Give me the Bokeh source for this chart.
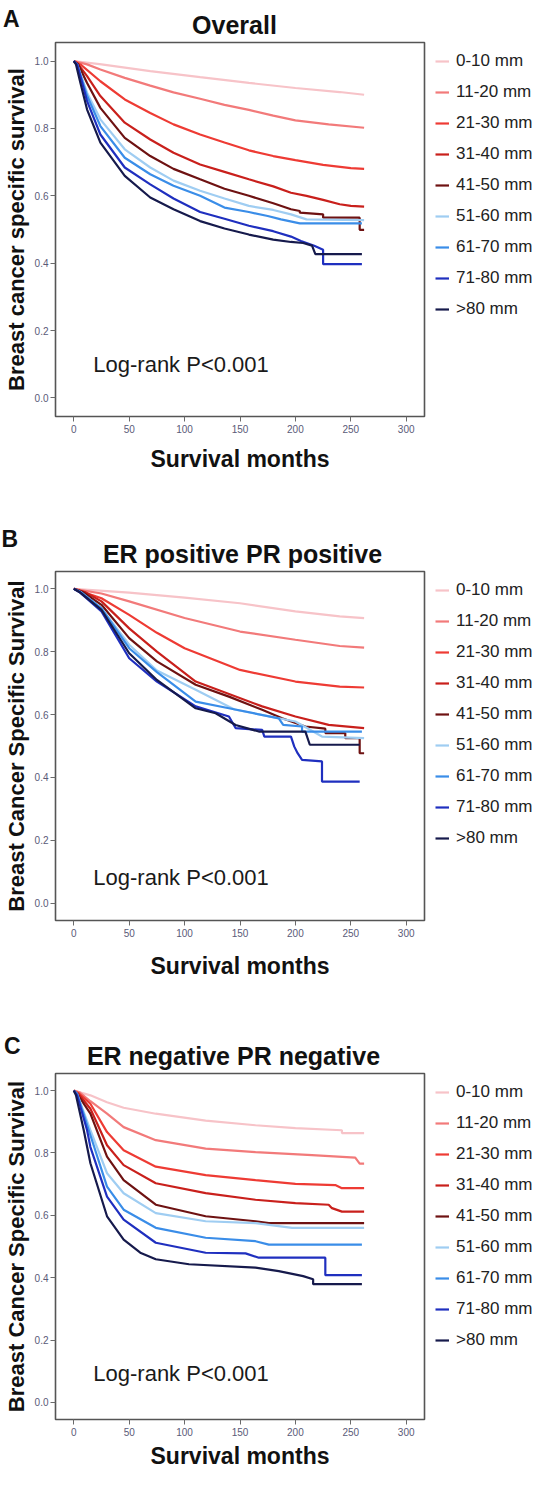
from bokeh.plotting import figure
from bokeh.models import Legend, LegendItem, Label, FixedTicker, NumeralTickFormatter, Range1d
from bokeh.layouts import column, row
from bokeh.embed import file_html
from bokeh.resources import INLINE

FONT = "Liberation Sans"

size_groups = ["0-10 mm", "11-20 mm", "21-30 mm", "31-40 mm", "41-50 mm",
               "51-60 mm", "61-70 mm", "71-80 mm", ">80 mm"]
group_colors = ["#f7c3c8", "#f27a7a", "#ee3b34", "#c9201c", "#6e1212",
                "#9fcdf2", "#3a8de8", "#1f2fbf", "#161a4c"]
x_ticks = [0, 50, 100, 150, 200, 250, 300]
y_ticks = [0.0, 0.2, 0.4, 0.6, 0.8, 1.0]

# Panel A: Overall
overall_months = [
    [0, 25, 69, 114, 158, 200, 240, 262],
    [0, 12, 24, 46, 69, 90, 114, 136, 158, 180, 200, 230, 262],
    [0, 6, 24, 46, 69, 90, 114, 136, 158, 180, 200, 225, 250, 262],
    [0, 4, 12, 24, 46, 69, 90, 114, 136, 158, 180, 196, 210, 225, 240, 250, 262],
    [0, 4, 12, 24, 46, 69, 90, 114, 136, 158, 180, 196, 204, 204, 225, 225, 258, 258, 262],
    [0, 3, 12, 24, 46, 69, 90, 114, 136, 158, 180, 196, 210, 262],
    [0, 3, 12, 24, 46, 69, 90, 114, 136, 158, 175, 187, 204, 260],
    [0, 3, 12, 24, 46, 69, 90, 114, 136, 158, 180, 196, 205, 217, 225, 225, 260],
    [0, 2, 6, 12, 24, 46, 69, 90, 114, 136, 158, 180, 196, 207, 215, 218, 260],
]
overall_survival = [
    [1.0, 0.99, 0.970, 0.952, 0.935, 0.920, 0.908, 0.900],
    [1.0, 0.99, 0.975, 0.950, 0.927, 0.907, 0.888, 0.870, 0.855, 0.838, 0.824, 0.812, 0.802],
    [1.0, 0.99, 0.940, 0.886, 0.846, 0.812, 0.782, 0.758, 0.735, 0.718, 0.706, 0.692, 0.682, 0.680],
    [1.0, 0.99, 0.955, 0.896, 0.817, 0.767, 0.728, 0.693, 0.671, 0.649, 0.628, 0.609, 0.600, 0.588, 0.575, 0.570, 0.568],
    [1.0, 0.99, 0.935, 0.861, 0.772, 0.718, 0.680, 0.649, 0.621, 0.600, 0.578, 0.560, 0.555, 0.550, 0.545, 0.535, 0.535, 0.499, 0.499],
    [1.0, 0.99, 0.906, 0.827, 0.738, 0.684, 0.645, 0.615, 0.592, 0.570, 0.558, 0.545, 0.530, 0.528],
    [1.0, 0.99, 0.897, 0.807, 0.713, 0.664, 0.630, 0.600, 0.565, 0.552, 0.540, 0.530, 0.518, 0.518],
    [1.0, 0.99, 0.881, 0.782, 0.684, 0.634, 0.592, 0.552, 0.532, 0.511, 0.495, 0.479, 0.466, 0.452, 0.440, 0.397, 0.397],
    [1.0, 0.99, 0.935, 0.856, 0.758, 0.659, 0.595, 0.560, 0.525, 0.503, 0.485, 0.470, 0.463, 0.460, 0.452, 0.427, 0.427],
]

# Panel B: ER positive PR positive
erpos_months = [
    [0, 50, 100, 150, 200, 240, 262],
    [0, 25, 50, 100, 150, 200, 240, 262],
    [0, 25, 50, 75, 100, 150, 200, 240, 262],
    [0, 10, 25, 50, 75, 110, 170, 200, 230, 262],
    [0, 8, 25, 50, 75, 110, 140, 170, 188, 209, 227, 227, 245, 245, 258, 258, 262],
    [0, 6, 25, 50, 75, 110, 145, 200, 224, 262],
    [0, 6, 25, 50, 75, 110, 140, 185, 189, 206, 206, 260],
    [0, 5, 25, 50, 75, 110, 140, 146, 170, 172, 196, 199, 202, 206, 224, 224, 258],
    [0, 5, 25, 50, 75, 110, 128, 146, 167, 209, 213, 258],
]
erpos_survival = [
    [1.0, 0.988, 0.972, 0.954, 0.928, 0.912, 0.907],
    [1.0, 0.985, 0.960, 0.907, 0.864, 0.838, 0.818, 0.813],
    [1.0, 0.970, 0.917, 0.860, 0.811, 0.742, 0.705, 0.689, 0.686],
    [1.0, 0.99, 0.960, 0.874, 0.800, 0.705, 0.626, 0.594, 0.567, 0.557],
    [1.0, 0.99, 0.949, 0.843, 0.769, 0.695, 0.657, 0.615, 0.588, 0.562, 0.555, 0.541, 0.541, 0.525, 0.525, 0.477, 0.477],
    [1.0, 0.99, 0.938, 0.822, 0.740, 0.679, 0.616, 0.578, 0.530, 0.525],
    [1.0, 0.99, 0.938, 0.811, 0.735, 0.641, 0.620, 0.588, 0.567, 0.562, 0.546, 0.546],
    [1.0, 0.99, 0.928, 0.779, 0.705, 0.626, 0.594, 0.557, 0.551, 0.530, 0.530, 0.498, 0.477, 0.456, 0.451, 0.387, 0.387],
    [1.0, 0.99, 0.933, 0.795, 0.710, 0.620, 0.604, 0.567, 0.546, 0.546, 0.504, 0.504],
]

# Panel C: ER negative PR negative
erneg_months = [
    [0, 15, 30, 45, 74, 119, 164, 200, 242, 242, 262],
    [0, 5, 15, 30, 45, 74, 119, 164, 215, 254, 258, 262],
    [0, 5, 15, 30, 45, 74, 119, 164, 200, 236, 242, 262],
    [0, 4, 15, 30, 45, 74, 119, 164, 200, 230, 233, 242, 262],
    [0, 3, 15, 30, 45, 74, 119, 164, 176, 262],
    [0, 3, 15, 30, 45, 74, 119, 164, 197, 262],
    [0, 3, 15, 30, 45, 74, 119, 164, 176, 260],
    [0, 3, 12, 15, 30, 45, 74, 119, 155, 167, 227, 227, 260],
    [0, 2, 9, 15, 30, 45, 60, 74, 104, 164, 185, 207, 216, 216, 260],
]
erneg_survival = [
    [1.0, 0.985, 0.963, 0.945, 0.926, 0.904, 0.889, 0.880, 0.873, 0.864, 0.864],
    [1.0, 0.995, 0.966, 0.926, 0.883, 0.841, 0.814, 0.803, 0.793, 0.785, 0.766, 0.766],
    [1.0, 0.99, 0.958, 0.867, 0.809, 0.756, 0.729, 0.713, 0.701, 0.697, 0.687, 0.687],
    [1.0, 0.99, 0.942, 0.825, 0.761, 0.703, 0.671, 0.650, 0.639, 0.634, 0.623, 0.612, 0.612],
    [1.0, 0.99, 0.926, 0.788, 0.713, 0.634, 0.597, 0.581, 0.575, 0.575],
    [1.0, 0.99, 0.873, 0.735, 0.671, 0.607, 0.581, 0.575, 0.560, 0.560],
    [1.0, 0.99, 0.857, 0.692, 0.618, 0.560, 0.528, 0.517, 0.506, 0.506],
    [1.0, 0.985, 0.873, 0.819, 0.660, 0.586, 0.512, 0.480, 0.478, 0.464, 0.464, 0.408, 0.408],
    [1.0, 0.985, 0.873, 0.767, 0.597, 0.522, 0.480, 0.459, 0.443, 0.432, 0.421, 0.405, 0.395, 0.379, 0.379],
]

panel_letters = ["A", "B", "C"]
panel_titles = ["Overall", "ER positive PR positive", "ER negative PR negative"]
y_labels = ["Breast cancer specific survival",
            "Breast Cancer Specific Survival",
            "Breast Cancer Specific Survival"]
x_label = "Survival months"
logrank_text = "Log-rank P<0.001"

TOTAL_W = 534
PLOT_W = 426
LEG_W = TOTAL_W - PLOT_W


def blank_figure(width, height, x_range, y_range):
    f = figure(width=width, height=height, x_range=x_range, y_range=y_range,
               output_backend="svg", toolbar_location=None, min_border=0,
               x_axis_location=None, y_axis_location=None,
               background_fill_color="white", border_fill_color="white")
    f.outline_line_color = None
    f.grid.visible = False
    return f


def make_header(letter, title, height, letter_x, letter_base, title_x, title_base):
    h = blank_figure(TOTAL_W, height, Range1d(0, TOTAL_W), Range1d(height, 0))
    h.add_layout(Label(x=letter_x, y=letter_base, text=letter, text_font=FONT,
                       text_font_size="23px", text_font_style="bold",
                       text_color="#111111", text_baseline="alphabetic"))
    h.add_layout(Label(x=title_x, y=title_base, text=title, text_font=FONT,
                       text_font_size="25px", text_font_style="bold",
                       text_color="#111111", text_align="center",
                       text_baseline="alphabetic"))
    return h


def make_plot(ylabel, months, survival, height, left, bottom, xlab_standoff, logrank_y):
    p = figure(width=PLOT_W, height=height,
               x_range=Range1d(-16.5, 316.5), y_range=Range1d(-0.055, 1.055),
               output_backend="svg", toolbar_location=None,
               min_border_left=left, min_border_right=2,
               min_border_top=1, min_border_bottom=bottom,
               background_fill_color="white", border_fill_color="white")
    p.grid.visible = False
    p.outline_line_color = "#555555"
    p.outline_line_width = 1.6

    p.xaxis.ticker = FixedTicker(ticks=x_ticks)
    p.yaxis.ticker = FixedTicker(ticks=y_ticks)
    p.yaxis.formatter = NumeralTickFormatter(format="0.0")
    p.axis.axis_line_color = None
    p.axis.major_tick_line_color = "#6a6a6a"
    p.axis.major_tick_in = 0
    p.axis.major_tick_out = 5
    p.axis.minor_tick_line_color = None
    p.axis.major_label_text_font = FONT
    p.axis.major_label_text_font_size = "10px"
    p.axis.major_label_text_color = "#5a5a78"
    p.xaxis.major_label_standoff = 3
    p.yaxis.major_label_standoff = 2

    p.xaxis.axis_label = x_label
    p.yaxis.axis_label = ylabel
    p.axis.axis_label_text_font = FONT
    p.axis.axis_label_text_font_style = "bold"
    p.axis.axis_label_text_color = "#111111"
    p.xaxis.axis_label_text_font_size = "23px"
    p.yaxis.axis_label_text_font_size = "22px"
    p.xaxis.axis_label_standoff = xlab_standoff
    p.yaxis.axis_label_standoff = 3

    for col, t, s in zip(group_colors, months, survival):
        p.line(t, s, line_color=col, line_width=2.2)

    p.add_layout(Label(x=17.6, y=logrank_y, text=logrank_text,
                       text_font=FONT, text_font_size="22px",
                       text_baseline="middle", text_color="#1a1a1a"))
    return p


def make_legend(height):
    # legend-only figure: its swatch lines lie outside the visible range
    lf = blank_figure(LEG_W, height, Range1d(0, 1), Range1d(0, 1))
    items = []
    for name, col in zip(size_groups, group_colors):
        r = lf.line(x=[-3, -2], y=[-3, -2], line_color=col, line_width=2.2)
        items.append(LegendItem(label=name, renderers=[r]))
    legend = Legend(items=items, location="top_left",
                    margin=9, padding=0, spacing=11,
                    glyph_width=14, glyph_height=20,
                    label_height=20, label_standoff=7,
                    label_text_font=FONT, label_text_font_size="17px",
                    label_text_color="#222222",
                    border_line_color=None, background_fill_alpha=0)
    lf.add_layout(legend)
    return lf


def make_panel(i, months, survival, header_h, plot_h, left, bottom, xlab_standoff,
               logrank_y, letter_x, letter_base, title_x, title_base):
    header = make_header(panel_letters[i], panel_titles[i], header_h,
                         letter_x, letter_base, title_x, title_base)
    plot = make_plot(y_labels[i], months, survival, plot_h, left, bottom,
                     xlab_standoff, logrank_y)
    leg = make_legend(plot_h)
    return column(header, row(plot, leg, spacing=0), spacing=0)


panelA = make_panel(0, overall_months, overall_survival,
                    header_h=41, plot_h=451, left=52, bottom=76, xlab_standoff=10,
                    logrank_y=0.098, letter_x=2.5, letter_base=18,
                    title_x=234, title_base=24)
panelB = make_panel(1, erpos_months, erpos_survival,
                    header_h=78, plot_h=412, left=50, bottom=62, xlab_standoff=13,
                    logrank_y=0.082, letter_x=1, letter_base=46.5,
                    title_x=242, title_base=61)
panelC = make_panel(2, erneg_months, erneg_survival,
                    header_h=90, plot_h=399, left=50, bottom=49, xlab_standoff=4,
                    logrank_y=0.092, letter_x=3.5, letter_base=63,
                    title_x=233, title_base=73)

layout = column(panelA, panelB, panelC, spacing=0)
open("out.html", "w").write(file_html(layout, INLINE))
